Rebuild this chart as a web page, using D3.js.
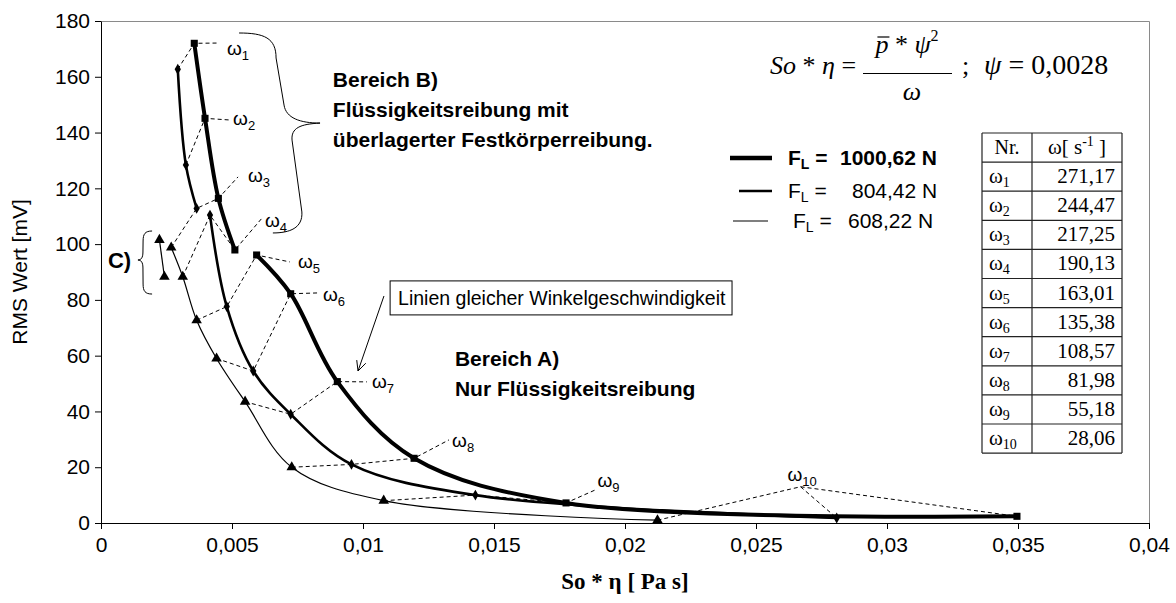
<!DOCTYPE html>
<html>
<head>
<meta charset="utf-8">
<script src="https://cdn.jsdelivr.net/npm/d3@7"></script>
<style>
    body { margin: 0; background: #fff; }
    svg { display: block; }
    text { font-family: Arial, "Liberation Sans", sans-serif; fill: #000; }
    .serif { font-family: "Times New Roman", "Liberation Serif", serif; }
</style>
</head>
<body>
<svg id="chart" width="1176" height="603"></svg>
<script>
// RMS value over So*eta for three bearing loads, omega 1..10

const omegaIds = [1, 2, 3, 4, 5, 6, 7, 8, 9, 10];
const omegaValues = ["271,17", "244,47", "217,25", "190,13", "163,01", "135,38", "108,57", "81,98", "55,18", "28,06"];

// F_L = 1000,62 N (squares)
const thickX = [0.00356, 0.00397, 0.00448, 0.00511, 0.00594, 0.00724, 0.00902, 0.01195, 0.01775, 0.03496];
const thickY = [172.0, 145.1, 116.4, 97.9, 96.1, 82.2, 50.7, 23.2, 7.2, 2.4];
// F_L = 804,42 N (diamonds)
const mediumX = [0.00293, 0.00324, 0.00365, 0.00416, 0.00480, 0.00581, 0.00724, 0.00956, 0.01429, 0.02808];
const mediumY = [162.7, 128.4, 112.8, 110.4, 77.6, 54.5, 39.0, 21.0, 10.0, 1.8];
// F_L = 608,22 N (triangles)
const thinX = [0.00223, 0.00242, 0.00268, 0.00312, 0.00365, 0.00441, 0.00550, 0.00728, 0.01079, 0.02124];
const thinY = [101.5, 88.3, 98.8, 88.3, 72.7, 59.0, 43.5, 20.0, 8.0, 1.0];

// which points are joined into one line (first, last index)
const thickPieces = [[0, 3], [4, 9]];
const mediumPieces = [[0, 2], [3, 9]];
const thinPieces = [[0, 1], [2, 9]];

const forceLabels = ["1000,62 N", "804,42 N", "608,22 N"];

const xTickValues = [0, 0.005, 0.01, 0.015, 0.02, 0.025, 0.03, 0.035, 0.04];
const xTickLabels = ["0", "0,005", "0,01", "0,015", "0,02", "0,025", "0,03", "0,035", "0,04"];
const yTickValues = [0, 20, 40, 60, 80, 100, 120, 140, 160, 180];

// end of the dashed omega lines, and the omega labels (data units)
const omegaEndX = [0.00447, 0.00492, 0.00523, 0.00618, 0.00721, 0.00828, 0.01015, 0.01328, 0.0189, 0.0267];
const omegaEndY = [172.1, 144.5, 124.1, 109.7, 93.6, 82.5, 50.6, 29.8, 12.0, 13.0];
const omegaLabelX = [0.00481, 0.00504, 0.00561, 0.00626, 0.00752, 0.00847, 0.01034, 0.0134, 0.01895, 0.0262];
const omegaLabelY = [167.8, 142.7, 122.3, 106.1, 91.4, 79.6, 48.4, 27.2, 13.0, 15.0];

const svg = d3.select("#chart");

const x = d3.scaleLinear().domain([0, 0.04]).range([101, 1149]);
const y = d3.scaleLinear().domain([0, 180]).range([523, 21]);

// grey plot frame (top and right)
svg.append("path")
    .attr("d", `M${x(0)},${y(180) + 0.5}H${x(0.04) + 0.5}V${y(0)}`)
    .attr("fill", "none")
    .attr("stroke", "#8a8a8a")
    .attr("stroke-width", 1);

// axes
const xAxis = svg.append("g")
    .attr("transform", `translate(0,${y(0)})`)
    .call(d3.axisBottom(x).tickValues(xTickValues).tickFormat((d, i) => xTickLabels[i])
        .tickSize(6).tickSizeOuter(0).tickPadding(8));

const yAxis = svg.append("g")
    .attr("transform", `translate(${x(0)},0)`)
    .call(d3.axisLeft(y).tickValues(yTickValues).tickSize(6).tickSizeOuter(0).tickPadding(5));

[xAxis, yAxis].forEach(g => {
    g.attr("font-size", 21).attr("font-family", "Arial, 'Liberation Sans', sans-serif");
    g.selectAll("path, line").attr("stroke", "#000");
    g.selectAll("text").attr("fill", "#000");
});

svg.append("text")
    .attr("transform", `translate(27,${(y(0) + y(180)) / 2}) rotate(-90)`)
    .attr("text-anchor", "middle")
    .attr("font-size", 21)
    .text("RMS Wert [mV]");

svg.append("text")
    .attr("class", "serif")
    .attr("x", (x(0) + x(0.04)) / 2)
    .attr("y", 589)
    .attr("text-anchor", "middle")
    .attr("font-size", 23)
    .attr("font-weight", "bold")
    .text("So * η [ Pa s]");

// series
const pts = (xs, ys) => xs.map((v, i) => [v, ys[i]]);
const thick = pts(thickX, thickY);
const medium = pts(mediumX, mediumY);
const thin = pts(thinX, thinY);

// dashed lines of equal angular velocity
const dashed = d3.line().x(d => x(d[0])).y(d => y(d[1]));
const omegaEnd = pts(omegaEndX, omegaEndY);
const dashLines = omegaIds.map((id, i) => {
    if (i < 2) return [medium[i], thick[i], omegaEnd[i]];
    if (i < 9) return [thin[i], medium[i], thick[i], omegaEnd[i]];
    return [thin[i], omegaEnd[i], thick[i]];
});
dashLines.push([omegaEnd[9], medium[9]]);

svg.append("g")
    .selectAll("path")
    .data(dashLines)
    .join("path")
    .attr("d", dashed)
    .attr("fill", "none")
    .attr("stroke", "#000")
    .attr("stroke-width", 1)
    .attr("stroke-dasharray", "4,3");

const smooth = d3.line()
    .x(d => x(d[0]))
    .y(d => y(d[1]))
    .curve(d3.curveCatmullRom.alpha(0.5));

const series = [
    { data: thin, pieces: thinPieces, width: 1.2, symbol: d3.symbolTriangle, size: 48 },
    { data: medium, pieces: mediumPieces, width: 2.6, symbol: d3.symbolDiamond, size: 34 },
    { data: thick, pieces: thickPieces, width: 4, symbol: d3.symbolSquare, size: 50 }
];

series.forEach(s => {
    svg.append("g")
        .selectAll("path")
        .data(s.pieces.map(p => s.data.slice(p[0], p[1] + 1)))
        .join("path")
        .attr("d", smooth)
        .attr("fill", "none")
        .attr("stroke", "#000")
        .attr("stroke-width", s.width)
        .attr("stroke-linejoin", "round");

    svg.append("g")
        .selectAll("path")
        .data(s.data)
        .join("path")
        .attr("transform", d => `translate(${x(d[0])},${y(d[1])})`)
        .attr("d", d3.symbol().type(s.symbol).size(s.size))
        .attr("fill", "#000");
});

// omega labels
const omegaText = svg.append("g").attr("font-size", 19);
omegaIds.forEach((id, i) => {
    const t = omegaText.append("text")
        .attr("x", x(omegaLabelX[i]))
        .attr("y", y(omegaLabelY[i]));
    t.append("tspan").text("ω");
    t.append("tspan").attr("font-size", 13).attr("dy", 5).text(id);
});

// curly braces
function braceRight(top, tip, bot) {
    return `M${top[0]},${top[1]}C${top[0] + 25},${top[1]} ${top[0] + 37},${top[1] + 5} ${top[0] + 37},${top[1] + 25}` +
        `L${tip[0] - 36},${tip[1] - 18}C${tip[0] - 34},${tip[1] - 5} ${tip[0] - 20},${tip[1]} ${tip[0]},${tip[1]}` +
        `C${tip[0] - 20},${tip[1] + 1} ${tip[0] - 29},${tip[1] + 5} ${tip[0] - 28},${tip[1] + 17}` +
        `L${bot[0] + 29},${bot[1] - 21}C${bot[0] + 30},${bot[1] - 5} ${bot[0] + 17},${bot[1]} ${bot[0]},${bot[1]}`;
}
function braceLeft(top, tip, bot) {
    return `M${top[0]},${top[1]}C${top[0] - 7},${top[1]} ${top[0] - 9},${top[1] + 3} ${top[0] - 9},${top[1] + 10}` +
        `L${tip[0] + 5},${tip[1] - 8}C${tip[0] + 5},${tip[1] - 2} ${tip[0] + 3},${tip[1]} ${tip[0]},${tip[1]}` +
        `C${tip[0] + 3},${tip[1]} ${tip[0] + 5},${tip[1] + 2} ${tip[0] + 5},${tip[1] + 8}` +
        `L${bot[0] - 9},${bot[1] - 10}C${bot[0] - 9},${bot[1] - 3} ${bot[0] - 7},${bot[1]} ${bot[0]},${bot[1]}`;
}
const px = p => [x(p[0]), y(p[1])];

svg.append("path")
    .attr("d", braceRight(px([0.00527, 175.7]), px([0.00836, 143.4]), px([0.00656, 104.0])))
    .attr("fill", "none").attr("stroke", "#000").attr("stroke-width", 1);

svg.append("path")
    .attr("d", braceLeft(px([0.00195, 104.7]), px([0.00141, 94.3]), px([0.00195, 82.1])))
    .attr("fill", "none").attr("stroke", "#000").attr("stroke-width", 1);

svg.append("text")
    .attr("x", x(0.00115)).attr("y", y(91.4))
    .attr("text-anchor", "end")
    .attr("font-size", 22).attr("font-weight", "bold")
    .text("C)");

// region notes
function note(lines, at) {
    const t = svg.append("text")
        .attr("font-size", 21).attr("font-weight", "bold");
    lines.forEach((s, i) => {
        t.append("tspan").attr("x", x(at[0])).attr("y", y(at[1]) + i * 30).text(s);
    });
}
note(["Bereich B)", "Flüssigkeitsreibung mit", "überlagerter Festkörperreibung."], [0.00885, 156.3]);
note(["Bereich A)", "Nur Flüssigkeitsreibung"], [0.01351, 56.3]);

// boxed hint with arrow
const hint = svg.append("text")
    .attr("x", x(0.01134)).attr("y", y(78.2))
    .attr("font-size", 19.5)
    .text("Linien gleicher Winkelgeschwindigkeit");
const hb = hint.node().getBBox();
svg.insert("rect", () => hint.node())
    .attr("x", hb.x - 8).attr("y", y(78.2) - 24)
    .attr("width", hb.width + 14).attr("height", 34)
    .attr("fill", "#fff").attr("stroke", "#000").attr("stroke-width", 1);

const a0 = px([0.0108, 81.4]), a1 = px([0.00981, 54.5]);
const ang = Math.atan2(a1[1] - a0[1], a1[0] - a0[0]);
const head = [ang + Math.PI - 0.45, ang + Math.PI + 0.45].map(t => [a1[0] + 11 * Math.cos(t), a1[1] + 11 * Math.sin(t)]);
svg.append("path")
    .attr("d", `M${a0}L${a1}M${head[0]}L${a1}L${head[1]}`)
    .attr("fill", "none").attr("stroke", "#000").attr("stroke-width", 1);

// legend
const legendWidths = [4.5, 2.6, 1.2];
const legendRowY = [158, 191, 221];
const legendLine = [[730, 772], [739, 772], [733, 768]];
const legendTextX = [788, 788, 793];
const legendNumX = [840, 852, 848];
forceLabels.forEach((lab, i) => {
    svg.append("line")
        .attr("x1", legendLine[i][0]).attr("x2", legendLine[i][1])
        .attr("y1", legendRowY[i]).attr("y2", legendRowY[i])
        .attr("stroke", "#000").attr("stroke-width", legendWidths[i]);
    const g = svg.append("g")
        .attr("font-size", 21)
        .attr("font-weight", i === 0 ? "bold" : "normal");
    const t = g.append("text").attr("x", legendTextX[i]).attr("y", legendRowY[i] + 7);
    t.append("tspan").text("F");
    t.append("tspan").attr("font-size", 14).attr("dy", 4).text("L");
    t.append("tspan").attr("dy", -4).text(" =");
    g.append("text").attr("x", legendNumX[i]).attr("y", legendRowY[i] + 7).text(lab);
});

// formula
const f = svg.append("g");
const lhs = f.append("text").attr("class", "serif").attr("x", 770).attr("y", 74).attr("font-size", 26);
lhs.append("tspan").attr("font-style", "italic").text("So");
lhs.append("tspan").text(" * ");
lhs.append("tspan").attr("font-style", "italic").text("η");
lhs.append("tspan").text(" =");

const num = f.append("text").attr("class", "serif").attr("x", 907).attr("y", 53)
    .attr("text-anchor", "middle").attr("font-size", 26);
num.append("tspan").attr("font-style", "italic").text("p");
num.append("tspan").text(" * ");
num.append("tspan").attr("font-style", "italic").text("ψ");
num.append("tspan").attr("font-size", 16).attr("dy", -12).text("2");
const pBox = num.node().getExtentOfChar(0);
f.append("line")
    .attr("x1", pBox.x + 2).attr("x2", pBox.x + pBox.width + 1)
    .attr("y1", 37).attr("y2", 37)
    .attr("stroke", "#000").attr("stroke-width", 1.2);

f.append("line")
    .attr("x1", 863).attr("x2", 952).attr("y1", 73.5).attr("y2", 73.5)
    .attr("stroke", "#000").attr("stroke-width", 1.2);
f.append("text").attr("class", "serif").attr("x", 912).attr("y", 100)
    .attr("text-anchor", "middle").attr("font-size", 26).attr("font-style", "italic").text("ω");
f.append("text").attr("class", "serif").attr("x", 962).attr("y", 74).attr("font-size", 26).text(";");
const rhs = f.append("text").attr("class", "serif").attr("x", 984).attr("y", 74).attr("font-size", 28);
rhs.append("tspan").attr("font-style", "italic").text("ψ");
rhs.append("tspan").text(" = 0,0028");

// omega table
const tableCols = [982, 1032, 1122];
const tableTop = 133, rowH = 29.1;
const table = svg.append("g");
const tableRows = omegaIds.length + 1;
d3.range(tableRows + 1).forEach(r => {
    table.append("line")
        .attr("x1", tableCols[0]).attr("x2", tableCols[2])
        .attr("y1", tableTop + r * rowH).attr("y2", tableTop + r * rowH)
        .attr("stroke", "#222").attr("stroke-width", 1.2);
});
tableCols.forEach(c => {
    table.append("line")
        .attr("x1", c).attr("x2", c)
        .attr("y1", tableTop).attr("y2", tableTop + tableRows * rowH)
        .attr("stroke", "#222").attr("stroke-width", 1.2);
});
table.append("text").attr("class", "serif")
    .attr("x", (tableCols[0] + tableCols[1]) / 2).attr("y", tableTop + 21)
    .attr("text-anchor", "middle").attr("font-size", 20).text("Nr.");
const hd = table.append("text").attr("class", "serif")
    .attr("x", (tableCols[1] + tableCols[2]) / 2).attr("y", tableTop + 21)
    .attr("text-anchor", "middle").attr("font-size", 21);
hd.append("tspan").text("ω[ s");
hd.append("tspan").attr("font-size", 14).attr("dy", -8).text("-1");
hd.append("tspan").attr("dy", 8).text(" ]");

omegaIds.forEach((id, i) => {
    const base = tableTop + (i + 1) * rowH + 21;
    const t = table.append("text").attr("class", "serif")
        .attr("x", tableCols[0] + 7).attr("y", base).attr("font-size", 21);
    t.append("tspan").text("ω");
    t.append("tspan").attr("font-size", 14).attr("dy", 4).text(id);
    table.append("text").attr("class", "serif")
        .attr("x", tableCols[2] - 7).attr("y", base)
        .attr("text-anchor", "end").attr("font-size", 21)
        .text(omegaValues[i]);
});
</script>
</body>
</html>
